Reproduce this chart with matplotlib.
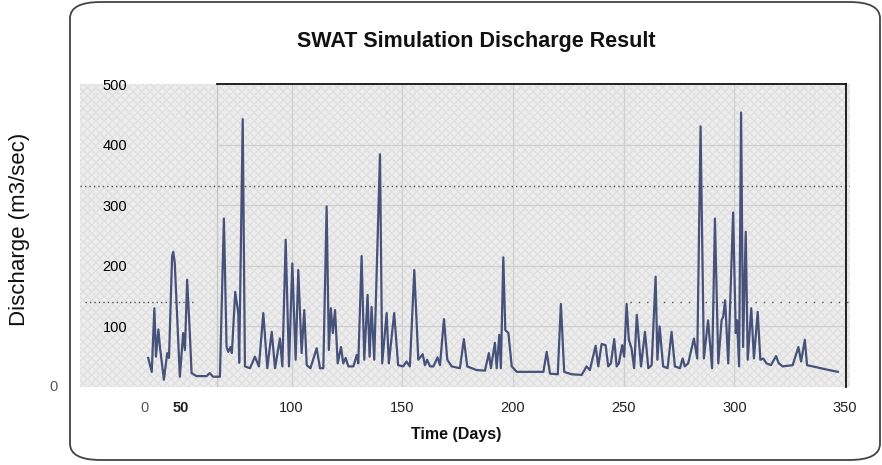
import matplotlib
matplotlib.use("Agg")
import matplotlib.pyplot as plt
from matplotlib.patches import FancyBboxPatch, Rectangle

plt.rcParams['font.family'] = ['Liberation Sans', 'DejaVu Sans']

# ---- data ----
days = [35.2, 36.8, 38.0, 38.7, 39.8, 40.5, 42.3, 43.8, 44.6, 46.0, 46.5, 47.2, 49.5, 51.0, 51.8,
        52.8, 54.0, 54.8, 57.0, 61.6, 63.0, 64.5, 67.6, 69.4, 70.6, 71.4, 72.4, 73.0, 74.5, 75.9,
        76.3, 77.9, 78.9, 81.2, 83.4, 85.2, 87.2, 89.0, 91.0, 92.5, 94.7, 95.8, 97.3, 98.8, 100.3,
        101.8, 103.0, 104.5, 105.7, 106.8, 108.5, 111.3, 112.8, 114.3, 115.8, 116.8, 117.7, 118.6,
        119.6, 120.8, 122.3, 123.3, 124.4, 125.6, 127.9, 129.4, 130.1, 131.6, 132.8, 134.3, 135.2,
        136.1, 137.3, 139.9, 140.9, 142.9, 143.9, 146.3, 148.1, 150.4, 151.9, 153.4, 155.4, 157.2,
        159.2, 160.2, 161.2, 162.5, 164.0, 165.9, 167.0, 168.8, 170.3, 172.3, 176.0, 177.8, 179.3,
        183.5, 187.3, 189.1, 190.0, 191.8, 192.6, 193.8, 194.5, 195.6, 196.5, 197.9, 199.4, 201.7,
        213.7, 215.2, 216.7, 220.2, 221.6, 223.1, 226.4, 231.0, 233.2, 234.7, 237.3, 238.5, 240.0,
        241.8, 243.0, 244.2, 245.7, 246.8, 247.8, 249.3, 250.2, 251.3, 252.3, 253.5, 254.7, 255.9,
        257.8, 259.6, 261.1, 262.6, 264.4, 265.2, 266.2, 267.8, 269.8, 271.6, 273.1, 275.4, 276.6,
        277.6, 279.1, 281.7, 283.2, 284.7, 286.2, 288.1, 289.9, 291.2, 292.7, 294.2, 294.9, 295.8,
        297.2, 299.4, 300.6, 301.2, 302.1, 303.0, 303.9, 305.1, 306.0, 307.6, 308.8, 310.5, 311.7,
        313.0, 314.5, 316.5, 318.8, 320.0, 321.8, 326.3, 328.9, 330.1, 331.8, 332.8, 335.4, 341.4,
        346.7]
discharge = [48, 25, 130, 50, 95, 66, 12, 56, 48, 215, 223, 205, 17, 89, 61,
             177, 89, 23, 18, 18, 23, 17, 17, 278, 66, 58, 66, 56, 157, 122,
             40, 442, 34, 31, 50, 34, 122, 31, 91, 31, 80, 34, 243, 34, 204,
             45, 193, 56, 127, 36, 31, 64, 31, 31, 298, 61, 130, 89,
             127, 39, 66, 39, 48, 34, 34, 53, 39, 216, 45, 152, 50,
             132, 45, 384, 39, 122, 39, 122, 36, 34, 42, 34, 193, 45,
             54, 36, 45, 34, 34, 49, 36, 112, 45, 34, 31, 79, 34,
             28, 27, 56, 31, 73, 31, 86, 31, 214, 94, 89, 34, 25,
             25, 58, 22, 21, 137, 25, 21, 20, 34, 28, 68, 34, 71,
             69, 34, 39, 79, 34, 39, 69, 50, 137, 78, 64, 31, 119,
             34, 91, 31, 36, 182, 45, 100, 34, 31, 91, 34, 31, 47,
             34, 39, 80, 47, 430, 47, 110, 31, 278, 39, 110, 116, 143,
             39, 288, 89, 110, 34, 453, 66, 256, 45, 130, 47, 124, 45,
             47, 39, 36, 51, 39, 34, 36, 66, 42, 78, 36, 34, 29,
             25]

x_ticks = [33.7, 50, 100, 150, 200, 250, 300, 350]
x_tick_labels = ['0', '50', '100', '150', '200', '250', '300', '350']
y_ticks = [100, 200, 300, 400, 500]
y_tick_labels = ['100', '200', '300', '400', '500']
grid_x = [100, 150, 200, 250, 300]
grid_y = [100, 200, 300, 400]
frame_x0, frame_x1 = 66.3, 350.4
dotted_levels = [332, 140]

# ---- figure ----
fig = plt.figure(figsize=(8.82, 4.65), dpi=100)

# outer rounded border
W, H = 882, 465
border = FancyBboxPatch((70 / W, 5 / H), (880 - 70) / W, (463 - 5) / H,
                        boxstyle="round,pad=0,rounding_size=0.035",
                        transform=fig.transFigure, facecolor='none',
                        edgecolor='#444444', linewidth=1.3, zorder=-1)
fig.patches.append(border)

ax = fig.add_axes([80 / W, (465 - 387) / H, 770 / W, 303 / H])
ax.set_facecolor('#ededed')
ax.add_patch(Rectangle((0, 0), 1, 1, transform=ax.transAxes, facecolor='none',
                       edgecolor='#e0e0e0', hatch='xxxx', linewidth=0, zorder=0))
for s in ax.spines.values():
    s.set_visible(False)

ax.set_xlim(4.4, 352.2)
ax.set_ylim(0, 500)

# grid inside the frame
for gx in grid_x:
    ax.plot([gx, gx], [0, 500], color='#cfcfcf', lw=0.9, zorder=1)
for gy in grid_y:
    ax.plot([frame_x0, frame_x1], [gy, gy], color='#cfcfcf', lw=0.9, zorder=1)
ax.plot([frame_x0, frame_x0], [0, 500], color='#c4c4c4', lw=0.9, zorder=1)
ax.plot([frame_x0, frame_x1], [0, 0], color='#c4c4c4', lw=0.9, zorder=1)

# dotted artefact lines
ax.plot([4.4, 352.2], [dotted_levels[0]] * 2, color='#555555', lw=1.0,
        linestyle=(0, (1, 2.2)), zorder=2)
ax.plot([6.5, 56], [dotted_levels[1]] * 2, color='#555555', lw=1.0,
        linestyle=(0, (1, 2.2)), zorder=2)
ax.plot([252.8, 352.2], [dotted_levels[1]] * 2, color='#555555', lw=1.0,
        linestyle=(0, (1, 5)), zorder=2)

# data line
ax.plot(days, discharge, color='#46527a', lw=1.6, zorder=3)

# black frame (top and right)
ax.plot([frame_x0, frame_x1], [500, 500], color='#111111', lw=1.3, zorder=4, clip_on=False)
ax.plot([frame_x1, frame_x1], [0, 500], color='#111111', lw=1.3, zorder=4, clip_on=False)

# ticks
ax.set_xticks(x_ticks)
ax.set_xticklabels(x_tick_labels, fontsize=10.5, color='#222222')
ax.tick_params(axis='x', length=0, pad=10)
ax.get_xticklabels()[0].set_color('#555555')
ax.get_xticklabels()[1].set_fontweight('bold')
ax.set_yticks(y_ticks)
ax.set_yticklabels(y_tick_labels, fontsize=10.5, color='#000000')
ax.tick_params(axis='y', length=0, pad=-34)
ax.text(-0.035, 0, '0', transform=ax.get_yaxis_transform(), ha='center', va='center',
        fontsize=10.5, color='#555555')

# texts
fig.text(476 / W, 1 - 42 / H, 'SWAT Simulation Discharge Result', ha='center', va='center',
         fontsize=15.5, fontweight='bold', color='#111111')
fig.text(456 / W, 1 - 435 / H, 'Time (Days)', ha='center', va='center',
         fontsize=11.5, fontweight='bold', color='#111111')
fig.text(20 / W, 1 - 229 / H, 'Discharge (m3/sec)', ha='center', va='center',
         rotation=90, fontsize=16, color='#111111')

fig.savefig('out.png', dpi=100)
